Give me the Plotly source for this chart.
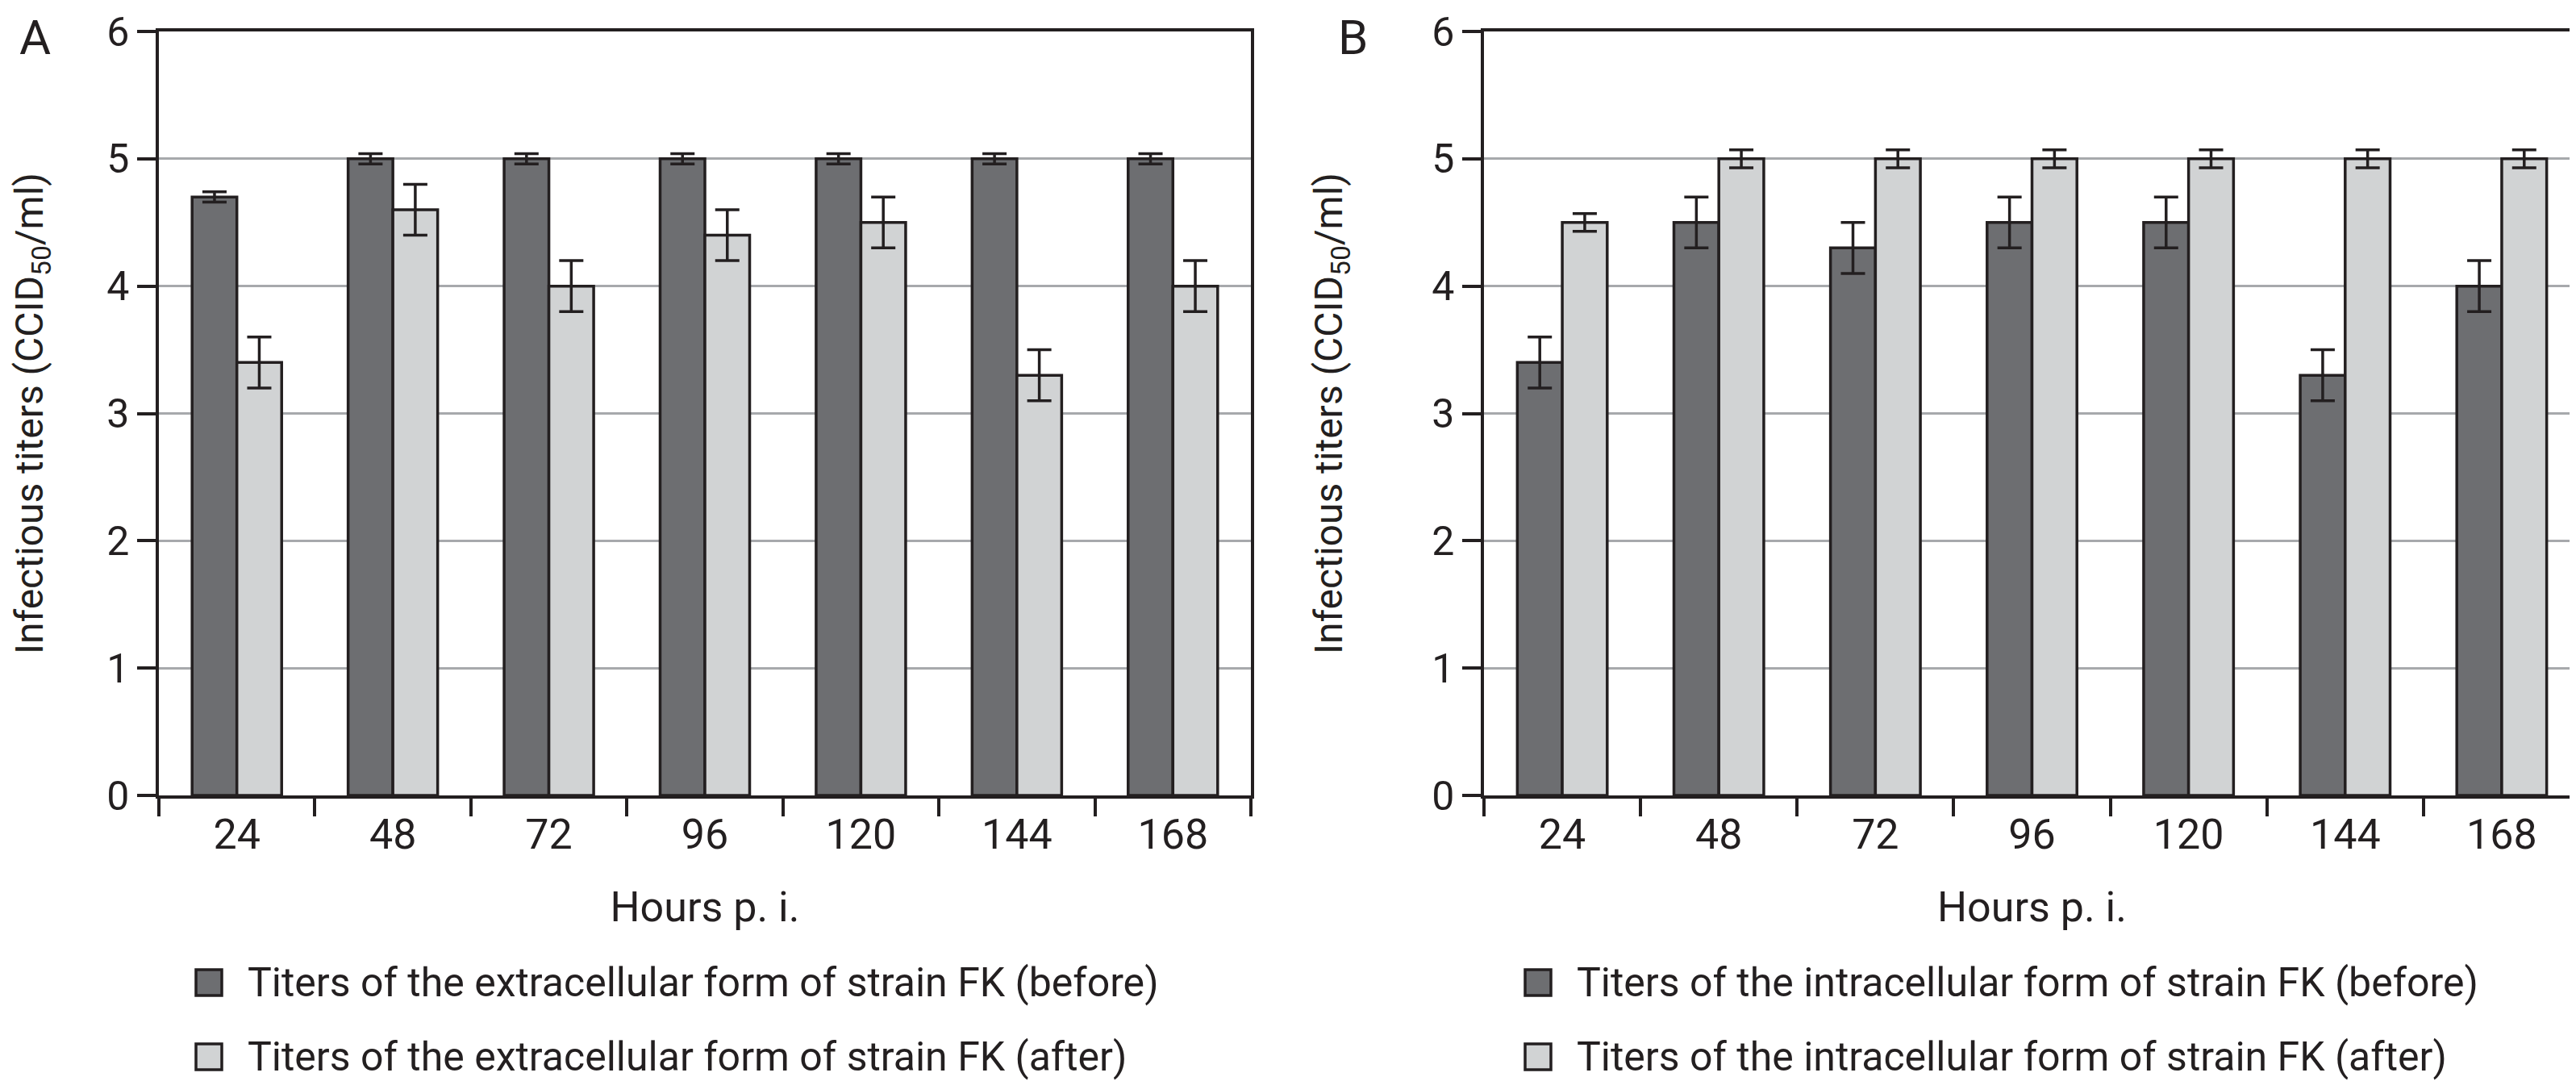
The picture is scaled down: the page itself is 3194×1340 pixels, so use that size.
import plotly.graph_objects as go

hours = ["24", "48", "72", "96", "120", "144", "168"]

# Panel A: extracellular form
a_before = [4.7, 5.0, 5.0, 5.0, 5.0, 5.0, 5.0]
a_before_err = [0.04, 0.04, 0.04, 0.04, 0.04, 0.04, 0.04]
a_after = [3.4, 4.6, 4.0, 4.4, 4.5, 3.3, 4.0]
a_after_err = [0.2, 0.2, 0.2, 0.2, 0.2, 0.2, 0.2]

# Panel B: intracellular form
b_before = [3.4, 4.5, 4.3, 4.5, 4.5, 3.3, 4.0]
b_before_err = [0.2, 0.2, 0.2, 0.2, 0.2, 0.2, 0.2]
b_after = [4.5, 5.0, 5.0, 5.0, 5.0, 5.0, 5.0]
b_after_err = [0.07, 0.07, 0.07, 0.07, 0.07, 0.07, 0.07]

names_a = ["Titers of the extracellular form of strain FK (before)",
           "Titers of the extracellular form of strain FK (after)"]
names_b = ["Titers of the intracellular form of strain FK (before)",
           "Titers of the intracellular form of strain FK (after)"]
panel_labels = ["A", "B"]
x_title = "Hours p. i."
y_title = "Infectious titers (CCID<sub>50</sub>/ml)"

DARK = "#6d6e71"
LIGHT = "#d1d3d4"
INK = "#231f20"
GRID = "#a7a9ac"
FONT = "Roboto"

W, H = 3194, 1340


def px_x(v):
    return v / W


def px_y(v):
    return 1 - v / H


def bar(y, err, name, color, xa, ya):
    return go.Bar(
        x=hours, y=y, name=name, xaxis=xa, yaxis=ya, showlegend=False,
        marker=dict(color=color, line=dict(color=INK, width=3.5)),
        error_y=dict(type="data", array=err, visible=True, color=INK,
                     thickness=3.5, width=15),
    )


fig = go.Figure()
fig.add_trace(bar(a_before, a_before_err, names_a[0], DARK, "x", "y"))
fig.add_trace(bar(a_after, a_after_err, names_a[1], LIGHT, "x", "y"))
fig.add_trace(bar(b_before, b_before_err, names_b[0], DARK, "x2", "y2"))
fig.add_trace(bar(b_after, b_after_err, names_b[1], LIGHT, "x2", "y2"))

ydom = [px_y(978), px_y(31)]

xcommon = dict(
    type="category", showline=True, linecolor=INK, linewidth=3.5, mirror=True,
    ticks="outside", tickson="boundaries", ticklen=22, tickwidth=3.5, tickcolor=INK,
    showgrid=False, tickfont=dict(size=52, color=INK, family=FONT),
    ticklabelstandoff=0, automargin=False,
    title=dict(text=x_title, font=dict(size=52, color=INK, family=FONT), standoff=42),
)
ycommon = dict(
    range=[0, 6], dtick=1, showline=True, linecolor=INK, linewidth=3.5, mirror=True,
    ticks="outside", ticklen=23, tickwidth=3.5, tickcolor=INK,
    showgrid=True, gridcolor=GRID, gridwidth=3, zeroline=False,
    tickfont=dict(size=50, color=INK, family=FONT), ticklabelstandoff=0,
    ticklabeloverflow="allow", automargin=False,
    title=dict(text=y_title, font=dict(size=48, color=INK, family=FONT), standoff=96),
    domain=ydom,
)

# Legend drawn as key boxes + labels (one block per panel)
legend_rows = [(1194, 1226), (1286, 1318)]
legend_blocks = [
    (235, 267, 297, names_a),
    (1883, 1915, 1945, names_b),
]
fills = [DARK, LIGHT]
shapes = []
annotations = []
for (bx0, bx1, tx, names) in legend_blocks:
    for (ry0, ry1), fill, name in zip(legend_rows, fills, names):
        shapes.append(dict(type="rect", xref="paper", yref="paper",
                           x0=px_x(bx0), x1=px_x(bx1), y0=px_y(ry1), y1=px_y(ry0),
                           fillcolor=fill, line=dict(color=INK, width=3.5)))
        annotations.append(dict(text=name, x=px_x(tx), y=px_y((ry0 + ry1) / 2),
                                xref="paper", yref="paper", xanchor="left",
                                yanchor="middle", showarrow=False,
                                font=dict(size=50, color=INK, family=FONT)))

for lab, cx in zip(panel_labels, [35, 1669]):
    annotations.append(dict(text=lab, x=px_x(cx), y=px_y(38), xref="paper", yref="paper",
                            xanchor="center", yanchor="middle", showarrow=False,
                            font=dict(size=60, color=INK, family=FONT)))

fig.update_layout(
    width=W, height=H,
    margin=dict(l=0, r=0, t=0, b=0, autoexpand=False),
    paper_bgcolor="white", plot_bgcolor="white",
    barmode="group", bargap=0.426, bargroupgap=0,
    font=dict(family=FONT, color=INK),
    showlegend=False,
    xaxis=dict(domain=[px_x(189), px_x(1543)], anchor="y", **xcommon),
    yaxis=dict(anchor="x", **ycommon),
    xaxis2=dict(domain=[px_x(1832), px_x(3191)], anchor="y2", **xcommon),
    yaxis2=dict(anchor="x2", **ycommon),
    shapes=shapes,
    annotations=annotations,
)

fig.write_html("out.html")
